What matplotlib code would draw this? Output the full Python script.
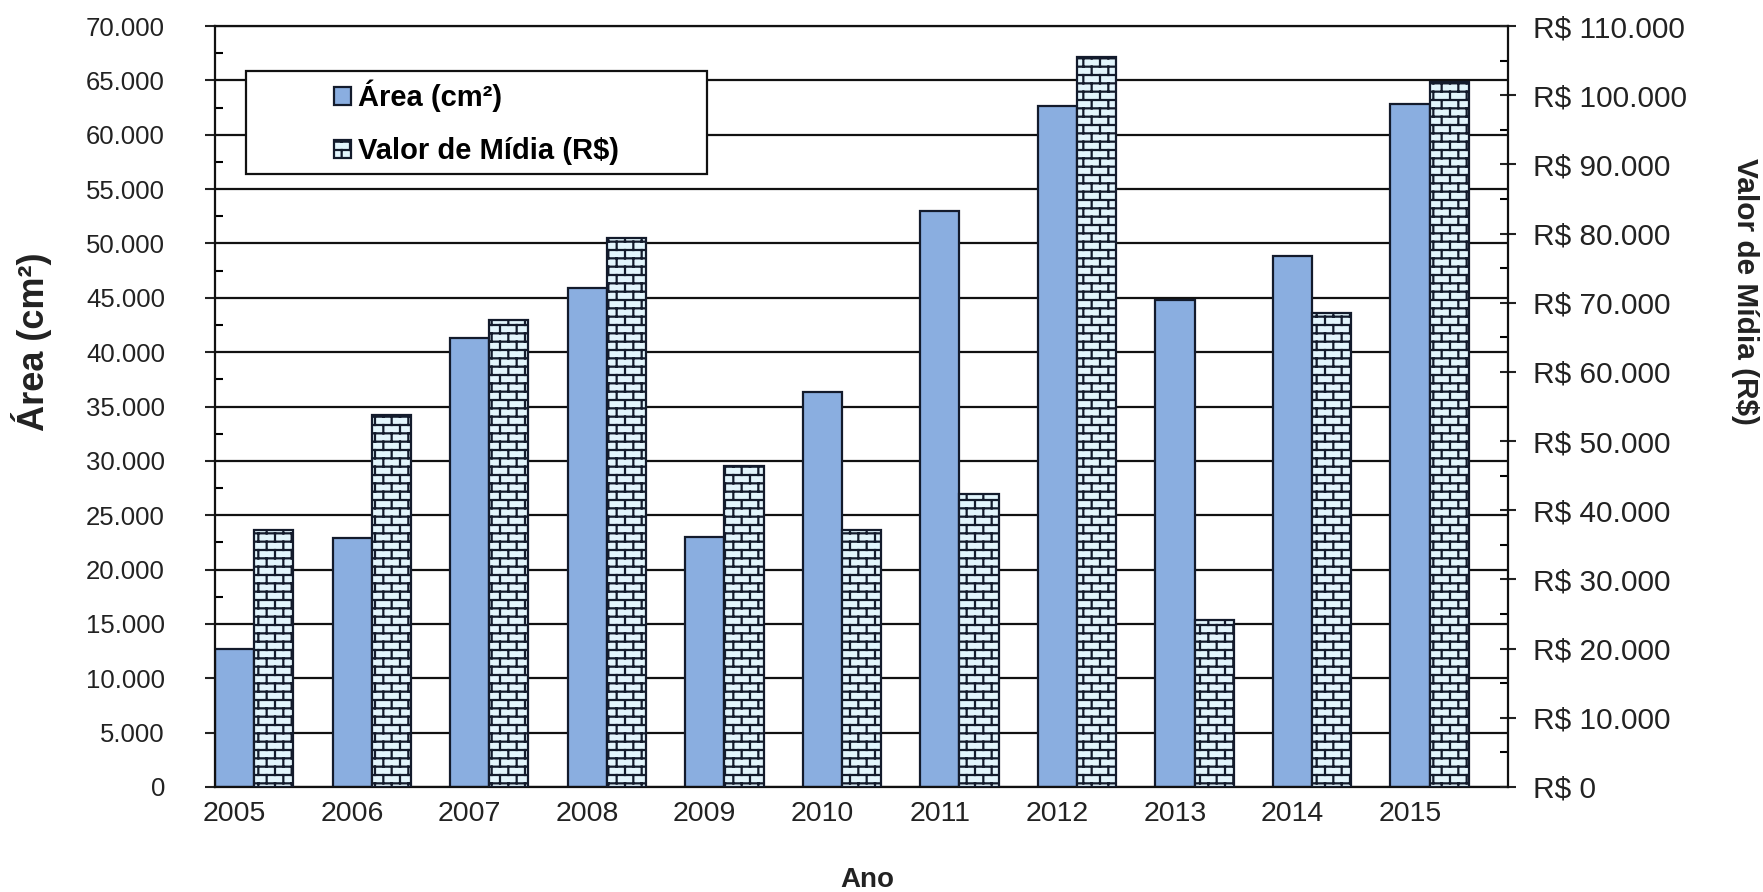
import numpy as np
import matplotlib
matplotlib.use("Agg")
import matplotlib.pyplot as plt
import matplotlib.hatch as mhatch
from matplotlib.path import Path
from matplotlib.patches import Rectangle
from matplotlib.ticker import MultipleLocator, FuncFormatter
import warnings

warnings.filterwarnings("ignore")

# ---------------- data ----------------
years = ["2005", "2006", "2007", "2008", "2009", "2010", "2011", "2012", "2013", "2014", "2015"]
area_cm2 = [12700, 22900, 41300, 45900, 23000, 36300, 53000, 62600, 44800, 48800, 62800]
valor_midia = [37100, 53700, 67500, 79300, 46400, 37100, 42400, 105500, 24200, 68500, 101900]
area_ticks_max = 70000
valor_ticks_max = 110000

# ---------------- brick hatch ----------------
class BrickHatch(mhatch.HatchPatternBase):
    def __init__(self, hatch, density):
        self.n = int(hatch.count('b') * density)
        n = self.n
        self.num_vertices = ((2 * n + 1) * 2 + n * (n + 1) * 2 + n * n * 2) if n else 0

    def set_vertices_and_codes(self, vertices, codes):
        n = self.n
        s = 1.0 / n
        verts = []
        for j in range(2 * n + 1):
            y = j * s / 2
            verts += [(0.0, y), (1.0, y)]
        for i in range(n):
            y0 = i * s
            for k in range(n + 1):
                xx = k * s
                verts += [(xx, y0), (xx, y0 + s / 2)]
            for k in range(n):
                xx = k * s + s / 2
                verts += [(xx, y0 + s / 2), (xx, y0 + s)]
        vertices[:] = np.array(verts)
        codes[0::2] = Path.MOVETO
        codes[1::2] = Path.LINETO

mhatch._hatch_types.append(BrickHatch)
try:
    mhatch._validate_hatch_pattern = lambda h: None
except Exception:
    pass

plt.rcParams['font.family'] = ['Liberation Sans', 'DejaVu Sans']
plt.rcParams['hatch.linewidth'] = 1.6

W, H = 1763, 892
fig = plt.figure(figsize=(W / 100, H / 100), dpi=100)
L, R, T, B = 215, 1508, 26, 787
ax1 = fig.add_axes([L / W, 1 - B / H, (R - L) / W, (B - T) / H])
ax2 = ax1.twinx()

x = np.arange(len(years))
bw = 1 / 3
blue = '#8aaee0'
edge = '#131b2c'

ax1.bar(x, area_cm2, width=bw, color=blue, edgecolor=edge, linewidth=1.6, zorder=2,
        label='Área (cm²)')
ax2.bar(x + bw, valor_midia, width=bw, color='#e2f5fc', edgecolor=edge, linewidth=1.6,
        hatch='b', zorder=2, label='Valor de Mídia (R$)')

ax1.set_xlim(-bw / 2, len(years) - 1 + bw + bw / 2 + bw)
ax1.set_ylim(0, area_ticks_max)
ax2.set_ylim(0, valor_ticks_max)

# grid
ax1.set_axisbelow(True)
ax1.yaxis.set_major_locator(MultipleLocator(5000))
ax1.yaxis.set_minor_locator(MultipleLocator(2500))
ax1.grid(axis='y', which='major', color='#111111', linewidth=1.6)
ax2.yaxis.set_major_locator(MultipleLocator(10000))
ax2.yaxis.set_minor_locator(MultipleLocator(5000))

fmt_l = FuncFormatter(lambda v, p: f"{v:,.0f}".replace(",", "."))
fmt_r = FuncFormatter(lambda v, p: "R$ " + f"{v:,.0f}".replace(",", "."))
ax1.yaxis.set_major_formatter(fmt_l)
ax2.yaxis.set_major_formatter(fmt_r)

ax1.set_xticks(x)
ax1.set_xticklabels(years)

for sp in ['top', 'right']:
    ax1.spines[sp].set_visible(sp == 'top')
for sp in ['left', 'top', 'bottom']:
    ax2.spines[sp].set_visible(False)
for a in (ax1, ax2):
    for sp in a.spines.values():
        sp.set_linewidth(1.6)
        sp.set_color('#111111')

ax1.tick_params(axis='y', which='major', direction='out', length=7, width=1.5,
                pad=29, labelsize=18.5, colors='#222222')
ax1.tick_params(axis='y', which='minor', direction='in', length=6, width=1.5)
ax1.tick_params(axis='x', length=0, pad=10, labelsize=20.5, colors='#222222')
ax2.tick_params(axis='y', which='major', direction='inout', length=12, width=1.5,
                pad=12, labelsize=21.5, colors='#222222')
ax2.tick_params(axis='y', which='minor', direction='in', length=6, width=1.5)

# legend with frame
bx0, bx1 = (246 - L) / (R - L), (707 - L) / (R - L)
by0, by1 = (B - 174) / (B - T), (B - 71) / (B - T)
ax2.add_patch(Rectangle((bx0, by0), bx1 - bx0, by1 - by0, transform=ax2.transAxes,
                        facecolor='white', edgecolor='#111111', linewidth=1.6, zorder=4))
h1, l1 = ax1.get_legend_handles_labels()
h2, l2 = ax2.get_legend_handles_labels()
leg = ax2.legend(h1 + h2, l1 + l2, loc='center',
                 bbox_to_anchor=((bx0 + bx1) / 2, (by0 + by1) / 2),
                 frameon=False, prop={'weight': 'bold', 'size': 21},
                 handlelength=0.6, handleheight=0.6, handletextpad=0.25,
                 labelspacing=0.85, borderaxespad=0)
leg.set_zorder(5)

# axis titles
fig.text(32 / W, 1 - 342 / H, 'Área (cm²)', rotation=90, ha='center', va='center',
         fontsize=26, fontweight='bold', color='#222222')
fig.text(1745 / W, 1 - 291 / H, 'Valor de Mídia (R$)', rotation=-90, ha='center',
         va='center', fontsize=21.5, fontweight='bold', color='#222222')
fig.text(867 / W, 1 - 880 / H, 'Ano', ha='center', va='center', fontsize=20,
         fontweight='bold', color='#222222')

fig.savefig('out.png', dpi=100, facecolor='white')
